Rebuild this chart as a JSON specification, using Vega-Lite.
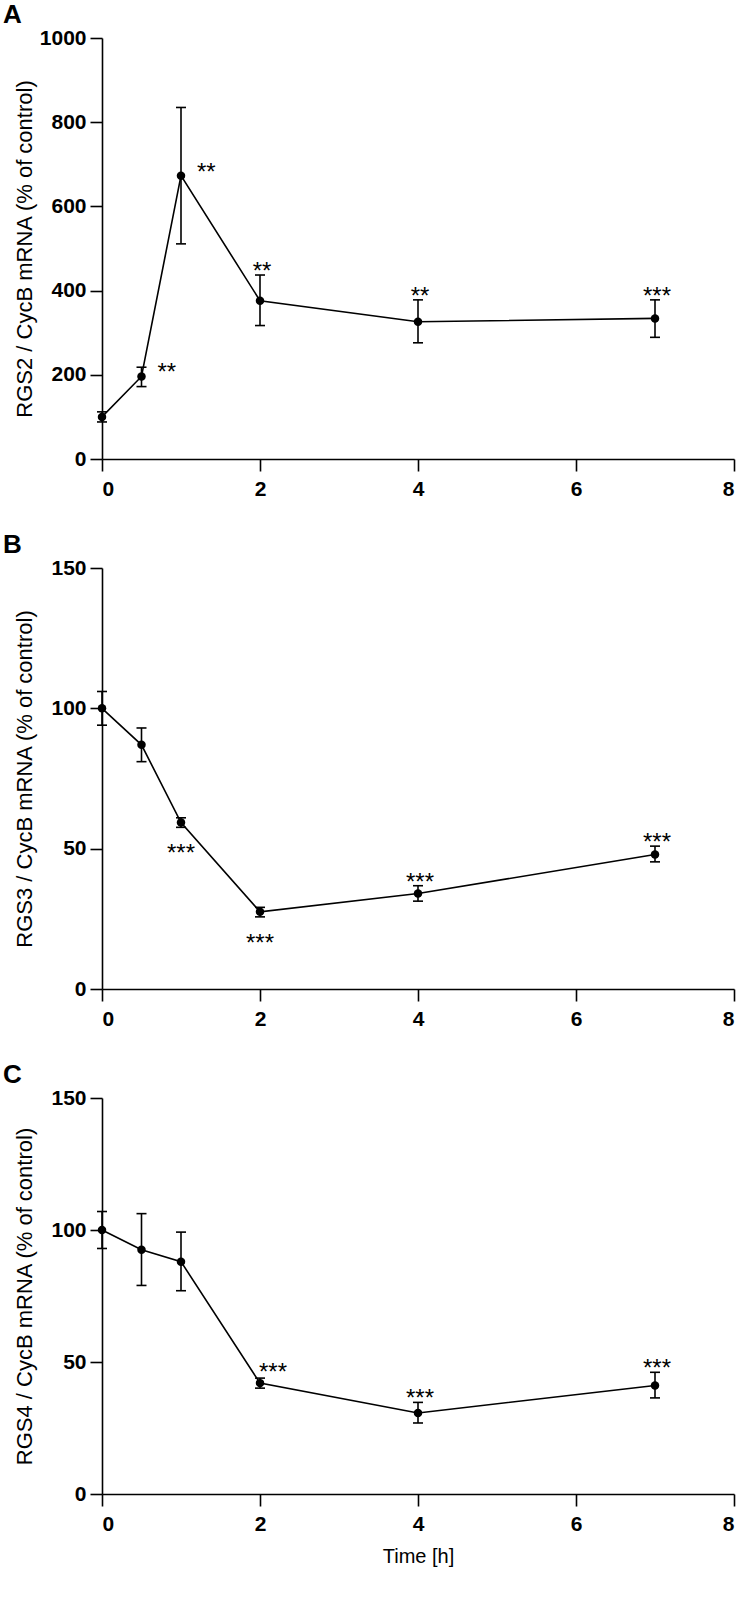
{
  "$schema": "https://vega.github.io/schema/vega-lite/v6.json",
  "padding": {"left": 3, "top": 2, "right": 2, "bottom": 5},
  "background": "white",
  "bounds": "flush",
  "spacing": 109,
  "config": {
    "view": {"stroke": null},
    "font": "Liberation Sans",
    "axis": {
      "grid": false,
      "domainColor": "black",
      "domainWidth": 1.6,
      "tickColor": "black",
      "tickWidth": 1.6,
      "tickSize": 12,
      "labelFont": "Liberation Sans",
      "labelFontWeight": "bold",
      "labelFontSize": 21,
      "labelColor": "black",
      "titleFont": "Liberation Sans",
      "titleFontWeight": "normal",
      "titleFontSize": 22,
      "titleColor": "black"
    },
    "axisX": {"labelPadding": 7, "titlePadding": 12},
    "axisY": {"labelPadding": 4, "titleX": -66},
    "title": {"fontSize": 26, "fontWeight": "bold", "anchor": "start", "frame": "group", "dx": -99, "color": "black", "baseline": "alphabetic", "offset": -1}
  },
  "datasets": {
    "A": [
      {"t": 0, "mean": 100, "lo": 88, "hi": 112, "sig": "", "pos": "none"},
      {"t": 0.5, "mean": 196, "lo": 172, "hi": 218, "sig": "**", "pos": "right"},
      {"t": 1, "mean": 673, "lo": 511, "hi": 835, "sig": "**", "pos": "right"},
      {"t": 2, "mean": 376, "lo": 317, "hi": 437, "sig": "**", "pos": "above"},
      {"t": 4, "mean": 326, "lo": 276, "hi": 378, "sig": "**", "pos": "above"},
      {"t": 7, "mean": 334, "lo": 289, "hi": 378, "sig": "***", "pos": "above"}
    ],
    "B": [
      {"t": 0, "mean": 100, "lo": 94, "hi": 106, "sig": "", "pos": "none"},
      {"t": 0.5, "mean": 87, "lo": 81, "hi": 93, "sig": "", "pos": "none"},
      {"t": 1, "mean": 59.3, "lo": 57.6, "hi": 61, "sig": "***", "pos": "below"},
      {"t": 2, "mean": 27.5, "lo": 25.7, "hi": 29.1, "sig": "***", "pos": "below"},
      {"t": 4, "mean": 34, "lo": 31.3, "hi": 36.8, "sig": "***", "pos": "above"},
      {"t": 7, "mean": 47.9, "lo": 45.3, "hi": 50.9, "sig": "***", "pos": "above"}
    ],
    "C": [
      {"t": 0, "mean": 100, "lo": 93, "hi": 107, "sig": "", "pos": "none"},
      {"t": 0.5, "mean": 92.5, "lo": 79, "hi": 106.2, "sig": "", "pos": "none"},
      {"t": 1, "mean": 88, "lo": 77, "hi": 99.2, "sig": "", "pos": "none"},
      {"t": 2, "mean": 42, "lo": 40.1, "hi": 43.9, "sig": "***", "pos": "above_r"},
      {"t": 4, "mean": 30.7, "lo": 26.9, "hi": 34.7, "sig": "***", "pos": "above"},
      {"t": 7, "mean": 41.1, "lo": 36.4, "hi": 46.1, "sig": "***", "pos": "above"}
    ]
  },
  "vconcat": [
    {
      "width": 632,
      "height": 421,
      "title": {"text": "A"},
      "data": {"name": "A"},
      "layer": [
        {"mark": {"type": "line", "color": "black", "strokeWidth": 1.6},
         "encoding": {
           "x": {"field": "t", "type": "quantitative", "scale": {"domain": [0, 8], "nice": false}, "axis": {"values": [0, 2, 4, 6, 8], "format": "d", "title": null}},
           "y": {"field": "mean", "type": "quantitative", "scale": {"domain": [0, 1000], "nice": false}, "axis": {"values": [0, 200, 400, 600, 800, 1000], "format": "d", "title": "RGS2 / CycB mRNA (% of control)"}}
         }},
        {"mark": {"type": "rule", "color": "black", "strokeWidth": 1.6},
         "encoding": {"x": {"field": "t", "type": "quantitative"}, "y": {"field": "lo", "type": "quantitative"}, "y2": {"field": "hi"}}},
        {"mark": {"type": "tick", "orient": "horizontal", "size": 10, "thickness": 1.6, "color": "black", "opacity": 1},
         "encoding": {"x": {"field": "t", "type": "quantitative"}, "y": {"field": "lo", "type": "quantitative"}}},
        {"mark": {"type": "tick", "orient": "horizontal", "size": 10, "thickness": 1.6, "color": "black", "opacity": 1},
         "encoding": {"x": {"field": "t", "type": "quantitative"}, "y": {"field": "hi", "type": "quantitative"}}},
        {"mark": {"type": "point", "filled": true, "size": 72, "color": "black", "opacity": 1},
         "encoding": {"x": {"field": "t", "type": "quantitative"}, "y": {"field": "mean", "type": "quantitative"}}},
        {"transform": [{"filter": "datum.pos === 'right'"}],
         "mark": {"type": "text", "fontSize": 24, "align": "left", "baseline": "alphabetic", "dx": 16, "dy": 4, "color": "black"},
         "encoding": {"x": {"field": "t", "type": "quantitative"}, "y": {"field": "mean", "type": "quantitative"}, "text": {"field": "sig"}}},
        {"transform": [{"filter": "datum.pos === 'above'"}],
         "mark": {"type": "text", "fontSize": 24, "align": "center", "baseline": "alphabetic", "dx": 2, "dy": 4, "color": "black"},
         "encoding": {"x": {"field": "t", "type": "quantitative"}, "y": {"field": "hi", "type": "quantitative"}, "text": {"field": "sig"}}}
      ]
    },
    {
      "width": 632,
      "height": 421,
      "title": {"text": "B"},
      "data": {"name": "B"},
      "layer": [
        {"mark": {"type": "line", "color": "black", "strokeWidth": 1.6},
         "encoding": {
           "x": {"field": "t", "type": "quantitative", "scale": {"domain": [0, 8], "nice": false}, "axis": {"values": [0, 2, 4, 6, 8], "format": "d", "title": null}},
           "y": {"field": "mean", "type": "quantitative", "scale": {"domain": [0, 150], "nice": false}, "axis": {"values": [0, 50, 100, 150], "format": "d", "title": "RGS3 / CycB mRNA (% of control)"}}
         }},
        {"mark": {"type": "rule", "color": "black", "strokeWidth": 1.6},
         "encoding": {"x": {"field": "t", "type": "quantitative"}, "y": {"field": "lo", "type": "quantitative"}, "y2": {"field": "hi"}}},
        {"mark": {"type": "tick", "orient": "horizontal", "size": 10, "thickness": 1.6, "color": "black", "opacity": 1},
         "encoding": {"x": {"field": "t", "type": "quantitative"}, "y": {"field": "lo", "type": "quantitative"}}},
        {"mark": {"type": "tick", "orient": "horizontal", "size": 10, "thickness": 1.6, "color": "black", "opacity": 1},
         "encoding": {"x": {"field": "t", "type": "quantitative"}, "y": {"field": "hi", "type": "quantitative"}}},
        {"mark": {"type": "point", "filled": true, "size": 72, "color": "black", "opacity": 1},
         "encoding": {"x": {"field": "t", "type": "quantitative"}, "y": {"field": "mean", "type": "quantitative"}}},
        {"transform": [{"filter": "datum.pos === 'below'"}],
         "mark": {"type": "text", "fontSize": 24, "align": "center", "baseline": "alphabetic", "dx": 0, "dy": 34, "color": "black"},
         "encoding": {"x": {"field": "t", "type": "quantitative"}, "y": {"field": "lo", "type": "quantitative"}, "text": {"field": "sig"}}},
        {"transform": [{"filter": "datum.pos === 'above'"}],
         "mark": {"type": "text", "fontSize": 24, "align": "center", "baseline": "alphabetic", "dx": 2, "dy": 4, "color": "black"},
         "encoding": {"x": {"field": "t", "type": "quantitative"}, "y": {"field": "hi", "type": "quantitative"}, "text": {"field": "sig"}}}
      ]
    },
    {
      "width": 632,
      "height": 396,
      "title": {"text": "C"},
      "data": {"name": "C"},
      "layer": [
        {"mark": {"type": "line", "color": "black", "strokeWidth": 1.6},
         "encoding": {
           "x": {"field": "t", "type": "quantitative", "scale": {"domain": [0, 8], "nice": false}, "axis": {"values": [0, 2, 4, 6, 8], "format": "d", "title": "Time [h]", "titleFontSize": 20}},
           "y": {"field": "mean", "type": "quantitative", "scale": {"domain": [0, 150], "nice": false}, "axis": {"values": [0, 50, 100, 150], "format": "d", "title": "RGS4 / CycB mRNA (% of control)"}}
         }},
        {"mark": {"type": "rule", "color": "black", "strokeWidth": 1.6},
         "encoding": {"x": {"field": "t", "type": "quantitative"}, "y": {"field": "lo", "type": "quantitative"}, "y2": {"field": "hi"}}},
        {"mark": {"type": "tick", "orient": "horizontal", "size": 10, "thickness": 1.6, "color": "black", "opacity": 1},
         "encoding": {"x": {"field": "t", "type": "quantitative"}, "y": {"field": "lo", "type": "quantitative"}}},
        {"mark": {"type": "tick", "orient": "horizontal", "size": 10, "thickness": 1.6, "color": "black", "opacity": 1},
         "encoding": {"x": {"field": "t", "type": "quantitative"}, "y": {"field": "hi", "type": "quantitative"}}},
        {"mark": {"type": "point", "filled": true, "size": 72, "color": "black", "opacity": 1},
         "encoding": {"x": {"field": "t", "type": "quantitative"}, "y": {"field": "mean", "type": "quantitative"}}},
        {"transform": [{"filter": "datum.pos === 'above'"}],
         "mark": {"type": "text", "fontSize": 24, "align": "center", "baseline": "alphabetic", "dx": 2, "dy": 4, "color": "black"},
         "encoding": {"x": {"field": "t", "type": "quantitative"}, "y": {"field": "hi", "type": "quantitative"}, "text": {"field": "sig"}}},
        {"transform": [{"filter": "datum.pos === 'above_r'"}],
         "mark": {"type": "text", "fontSize": 24, "align": "center", "baseline": "alphabetic", "dx": 13, "dy": 2, "color": "black"},
         "encoding": {"x": {"field": "t", "type": "quantitative"}, "y": {"field": "hi", "type": "quantitative"}, "text": {"field": "sig"}}}
      ]
    }
  ]
}
